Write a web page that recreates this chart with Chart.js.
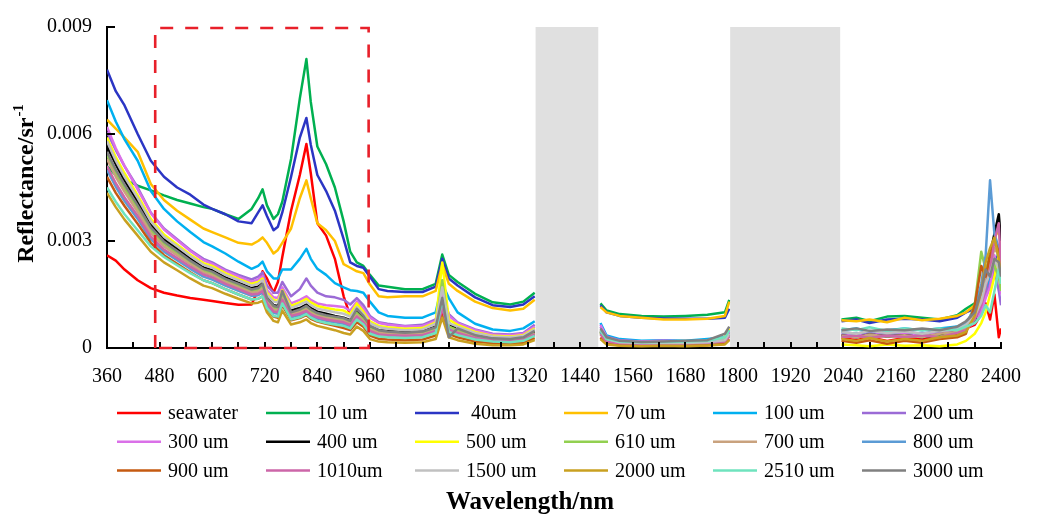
<!DOCTYPE html>
<html>
<head>
<meta charset="utf-8">
<script src="https://cdn.jsdelivr.net/npm/chart.js@4/dist/chart.umd.min.js"></script>
<style>
html,body{margin:0;padding:0;background:#fff;}
#wrap{width:1038px;height:522px;}
</style>
</head>
<body>
<div id="wrap"><canvas id="c" width="1038" height="522"></canvas></div>
<script>
// ---------------- DATA (reflectance values in units of 1e-3 sr^-1) ----------------
const wavelengths = [360,380,400,430,460,490,520,550,580,600,
 630,660,690,705,715,725,740,750,760,780,
 800,815,825,840,860,880,900,915,930,945,
 960,980,1000,1040,1080,1110,1125,1140,1160,1200,
 1240,1280,1310,1336,1400,
 1486,1500,1530,1580,1630,1680,1730,1770,1780,
 1900,
 2036,2070,2100,2140,2180,2220,2260,2300,2320,2340,
 2355,2365,2375,2385,2395,2400];

const seawater = [2.60,2.45,2.20,1.90,1.68,1.55,1.47,1.40,1.35,1.32,
 1.26,1.21,1.22,1.65,2.15,1.95,1.55,1.85,2.55,3.85,
 4.85,5.72,4.90,3.50,3.15,2.50,1.45,0.90,0.80,0.85,
 0.60,0.45,0.40,0.36,0.36,0.45,0.95,0.50,0.38,0.26,
 0.22,0.20,0.25,0.42,null,
 0.50,0.28,0.15,0.12,0.15,0.18,0.15,0.25,0.42,
 null,
 0.28,0.22,0.30,0.20,0.28,0.24,0.32,0.40,0.55,0.65,
 0.95,1.25,0.80,1.50,0.30,0.55];
const um10 = [5.10,4.85,4.72,4.55,4.42,4.28,4.15,4.05,3.95,3.90,
 3.75,3.62,3.90,4.20,4.45,4.00,3.62,3.75,4.10,5.30,
 7.00,8.10,6.90,5.65,5.15,4.50,3.55,2.70,2.40,2.30,
 2.05,1.75,1.72,1.65,1.65,1.80,2.62,2.05,1.85,1.52,
 1.28,1.22,1.30,1.55,null,
 1.25,1.05,0.95,0.90,0.88,0.90,0.93,1.00,1.35,
 null,
 0.80,0.85,0.75,0.88,0.90,0.85,0.80,0.92,1.10,1.25,
 1.50,1.80,2.20,2.00,2.80,2.30];
const um40 = [7.80,7.20,6.80,6.00,5.25,4.80,4.50,4.30,4.02,3.90,
 3.75,3.55,3.50,3.80,4.00,3.70,3.30,3.40,3.80,4.80,
 5.90,6.45,5.70,4.85,4.40,3.85,3.05,2.40,2.30,2.25,
 2.00,1.65,1.60,1.57,1.57,1.72,2.50,1.95,1.75,1.42,
 1.20,1.15,1.22,1.45,null,
 1.20,1.00,0.90,0.85,0.83,0.82,0.82,0.85,1.10,
 null,
 0.75,0.80,0.70,0.80,0.82,0.80,0.75,0.85,1.00,1.10,
 1.40,1.60,2.00,2.40,2.60,2.20];
const um70 = [6.40,6.15,5.90,5.50,4.60,4.15,3.85,3.60,3.35,3.25,
 3.10,2.95,2.90,3.00,3.10,2.95,2.65,2.75,2.95,3.35,
 4.20,4.70,4.20,3.50,3.30,3.00,2.35,2.25,2.15,2.10,
 1.78,1.45,1.42,1.45,1.45,1.60,2.35,1.80,1.60,1.30,
 1.12,1.05,1.10,1.35,null,
 1.15,1.00,0.90,0.85,0.80,0.80,0.82,0.90,1.30,
 null,
 0.78,0.75,0.80,0.72,0.85,0.78,0.82,0.90,1.00,1.20,
 1.70,2.00,2.60,3.10,3.30,2.80];
const um100 = [6.95,6.35,5.85,5.25,4.40,3.90,3.55,3.25,2.97,2.85,
 2.65,2.42,2.22,2.30,2.42,2.15,1.95,1.95,2.20,2.20,
 2.50,2.78,2.50,2.22,2.05,1.82,1.70,1.62,1.60,1.55,
 1.30,1.00,0.90,0.85,0.85,1.00,1.80,1.40,1.00,0.68,
 0.52,0.48,0.55,0.75,null,
 0.70,0.35,0.25,0.20,0.22,0.20,0.25,0.30,0.50,
 null,
 0.50,0.55,0.45,0.50,0.55,0.50,0.55,0.60,0.70,0.90,
 1.20,1.60,2.00,2.30,2.50,2.00];
const um200 = [6.05,5.55,5.10,4.50,3.80,3.35,3.05,2.75,2.50,2.40,
 2.20,2.05,1.92,2.00,2.12,1.75,1.55,1.55,1.85,1.45,
 1.65,1.95,1.75,1.55,1.45,1.42,1.35,1.22,1.40,1.20,
 0.90,0.72,0.68,0.62,0.65,0.80,1.50,0.95,0.72,0.52,
 0.40,0.38,0.42,0.65,null,
 0.60,0.32,0.22,0.18,0.20,0.18,0.20,0.25,0.45,
 null,
 0.40,0.35,0.45,0.38,0.42,0.35,0.45,0.50,0.60,0.80,
 1.10,1.50,1.80,2.20,1.60,1.20];
const um300 = [6.20,5.60,5.10,4.45,3.78,3.32,3.02,2.72,2.46,2.36,
 2.16,2.00,1.85,1.92,2.02,1.62,1.42,1.40,1.70,1.25,
 1.35,1.45,1.35,1.25,1.20,1.18,1.15,1.05,1.30,1.10,
 0.85,0.70,0.65,0.60,0.62,0.75,1.60,0.90,0.70,0.50,
 0.38,0.36,0.40,0.60,null,
 0.65,0.30,0.20,0.18,0.20,0.18,0.20,0.25,0.45,
 null,
 0.35,0.40,0.32,0.45,0.38,0.42,0.35,0.48,0.55,0.70,
 1.00,1.40,1.70,2.60,2.10,1.50];
const um400 = [5.65,5.15,4.70,4.10,3.45,3.05,2.78,2.50,2.26,2.18,
 1.98,1.83,1.68,1.72,1.82,1.42,1.20,1.18,1.50,1.05,
 1.12,1.22,1.12,1.02,0.96,0.90,0.85,0.78,1.00,0.85,
 0.60,0.50,0.48,0.45,0.48,0.60,1.30,0.70,0.50,0.35,
 0.27,0.25,0.30,0.45,null,
 0.45,0.20,0.15,0.12,0.13,0.12,0.14,0.20,0.38,
 null,
 0.35,0.30,0.38,0.32,0.36,0.30,0.38,0.45,0.55,0.75,
 1.50,2.00,2.60,3.20,3.75,3.00];
const um500 = [5.90,5.35,4.90,4.28,3.62,3.18,2.90,2.62,2.38,2.30,
 2.10,1.94,1.80,1.85,1.95,1.55,1.35,1.32,1.62,1.18,
 1.28,1.38,1.28,1.18,1.12,1.08,1.05,0.95,1.25,1.02,
 0.75,0.62,0.58,0.54,0.56,0.72,2.40,0.80,0.65,0.45,
 0.34,0.32,0.36,0.55,null,
 0.45,0.22,0.12,0.08,0.06,0.08,0.10,0.30,0.55,
 null,
 0.10,0.08,0.05,0.10,0.06,0.08,0.05,0.10,0.20,0.40,
 0.70,1.00,1.50,2.00,2.60,2.00];
const um610 = [5.40,4.90,4.48,3.92,3.30,2.92,2.66,2.40,2.17,2.09,
 1.90,1.75,1.60,1.63,1.72,1.35,1.12,1.10,1.45,0.98,
 1.05,1.12,1.02,0.94,0.88,0.84,0.80,0.72,0.98,0.80,
 0.55,0.45,0.42,0.40,0.42,0.55,1.90,0.60,0.50,0.32,
 0.25,0.23,0.27,0.42,null,
 0.40,0.18,0.12,0.10,0.10,0.11,0.12,0.18,0.35,
 null,
 0.30,0.35,0.28,0.35,0.30,0.35,0.32,0.45,0.60,1.20,
 2.70,2.20,2.50,2.30,2.00,1.60];
const um700 = [5.30,4.80,4.38,3.82,3.22,2.85,2.60,2.35,2.12,2.04,
 1.85,1.70,1.55,1.58,1.66,1.30,1.08,1.05,1.40,0.95,
 1.00,1.08,0.98,0.90,0.84,0.80,0.76,0.68,0.92,0.76,
 0.52,0.42,0.40,0.37,0.39,0.50,1.20,0.55,0.45,0.30,
 0.23,0.21,0.25,0.40,null,
 0.42,0.20,0.14,0.12,0.13,0.12,0.14,0.20,0.35,
 null,
 0.35,0.30,0.38,0.32,0.36,0.30,0.40,0.45,0.55,0.90,
 1.40,2.00,2.30,2.80,2.60,2.00];
const um800 = [5.00,4.52,4.12,3.62,3.05,2.70,2.46,2.22,2.00,1.92,
 1.75,1.60,1.46,1.48,1.55,1.20,0.98,0.96,1.30,0.86,
 0.92,1.00,0.90,0.82,0.76,0.72,0.68,0.60,0.85,0.70,
 0.45,0.36,0.34,0.32,0.34,0.45,1.25,0.52,0.40,0.26,
 0.20,0.18,0.22,0.36,null,
 0.45,0.22,0.15,0.13,0.14,0.15,0.16,0.22,0.40,
 null,
 0.45,0.40,0.48,0.42,0.46,0.40,0.50,0.55,0.70,1.10,
 1.80,2.60,4.70,3.20,2.80,2.00];
const um900 = [4.80,4.35,3.98,3.48,2.95,2.60,2.36,2.12,1.90,1.82,
 1.65,1.50,1.36,1.38,1.45,1.10,0.88,0.85,1.20,0.78,
 0.84,0.92,0.82,0.74,0.68,0.62,0.56,0.50,0.72,0.60,
 0.35,0.26,0.24,0.22,0.24,0.35,0.90,0.40,0.30,0.18,
 0.13,0.12,0.15,0.28,null,
 0.30,0.12,0.08,0.06,0.07,0.06,0.08,0.12,0.25,
 null,
 0.20,0.15,0.22,0.12,0.20,0.15,0.25,0.30,0.40,1.20,
 2.30,2.00,2.60,3.00,2.70,2.20];
const um1010 = [5.10,4.62,4.22,3.70,3.12,2.76,2.52,2.28,2.06,1.98,
 1.80,1.65,1.50,1.52,1.60,1.25,1.02,1.00,1.35,0.90,
 0.96,1.04,0.94,0.86,0.80,0.76,0.72,0.64,0.88,0.72,
 0.48,0.38,0.36,0.34,0.36,0.48,1.10,0.50,0.42,0.28,
 0.21,0.19,0.23,0.38,null,
 0.38,0.18,0.13,0.12,0.12,0.13,0.14,0.18,0.32,
 null,
 0.30,0.35,0.28,0.35,0.30,0.36,0.30,0.42,0.50,0.80,
 1.20,1.70,2.20,3.00,3.50,2.20];
const um1500 = [5.80,5.25,4.80,4.20,3.55,3.12,2.85,2.58,2.33,2.25,
 2.05,1.90,1.75,1.80,1.90,1.50,1.30,1.28,1.58,1.12,
 1.22,1.30,1.20,1.10,1.05,1.00,0.96,0.88,1.15,0.95,
 0.70,0.58,0.54,0.50,0.52,0.68,1.70,0.70,0.60,0.42,
 0.32,0.30,0.34,0.52,null,
 0.50,0.25,0.16,0.14,0.15,0.14,0.16,0.22,0.40,
 null,
 0.45,0.40,0.48,0.42,0.46,0.40,0.48,0.52,0.65,0.90,
 1.30,1.80,2.10,2.50,2.20,1.80];
const um2000 = [4.35,3.95,3.60,3.15,2.70,2.40,2.18,1.95,1.75,1.68,
 1.52,1.38,1.25,1.27,1.32,1.00,0.76,0.72,1.05,0.66,
 0.72,0.80,0.70,0.62,0.56,0.50,0.42,0.38,0.60,0.48,
 0.25,0.18,0.16,0.15,0.16,0.25,0.85,0.30,0.22,0.12,
 0.08,0.08,0.10,0.22,null,
 0.25,0.10,0.06,0.05,0.06,0.05,0.07,0.10,0.22,
 null,
 0.25,0.20,0.28,0.18,0.25,0.20,0.30,0.35,0.45,0.90,
 1.60,2.40,2.80,3.10,2.50,2.00];
const um2510 = [4.50,4.10,3.75,3.30,2.85,2.55,2.32,2.10,1.90,1.82,
 1.65,1.50,1.36,1.38,1.45,1.12,0.90,0.88,1.25,0.80,
 0.86,0.95,0.85,0.76,0.70,0.66,0.62,0.55,0.80,0.66,
 0.40,0.32,0.30,0.28,0.30,0.42,1.35,0.45,0.36,0.24,
 0.18,0.16,0.20,0.34,null,
 0.50,0.25,0.18,0.16,0.17,0.18,0.20,0.30,0.50,
 null,
 0.55,0.50,0.58,0.48,0.55,0.50,0.55,0.50,0.60,0.70,
 0.90,1.20,1.00,1.60,2.20,1.80];
const um3000 = [5.50,5.00,4.58,4.00,3.38,2.98,2.72,2.45,2.22,2.14,
 1.94,1.80,1.64,1.68,1.80,1.40,1.18,1.15,1.60,1.00,
 1.08,1.18,1.08,0.98,0.92,0.88,0.84,0.76,1.10,0.90,
 0.62,0.50,0.46,0.43,0.46,0.58,1.40,0.30,0.55,0.36,
 0.27,0.25,0.30,0.48,null,
 0.55,0.30,0.20,0.17,0.18,0.20,0.22,0.40,0.60,
 null,
 0.50,0.55,0.48,0.52,0.50,0.55,0.50,0.60,0.75,1.00,
 1.60,2.20,2.00,2.50,2.40,2.00];

const seriesNames = ['seawater','10 um',' 40um','70 um','100 um','200 um',
 '300 um','400 um','500 um','610 um','700 um','800 um',
 '900 um','1010um','1500 um','2000 um','2510 um','3000 um'];
const seriesValues = [seawater,um10,um40,um70,um100,um200,
 um300,um400,um500,um610,um700,um800,
 um900,um1010,um1500,um2000,um2510,um3000];
const seriesColors = ['#FF0000','#00B050','#2B35C4','#FFC000','#00B0F0','#9B6BD6',
 '#DA70E8','#000000','#FFFF00','#92D050','#C9A27E','#5B9BD5',
 '#C55A11','#CC66A8','#C0C0C0','#C9A020','#6FE3BE','#808080'];

const xTickLabels = [360,480,600,720,840,960,1080,1200,1320,1440,1560,1680,1800,1920,2040,2160,2280,2400];
const yTickLabels = ['0','0.003','0.006','0.009'];
const grayBands = [[1338,1481],[1782,2033]];   // nm ranges shaded grey
const highlightRange = [470, 957];            // nm range of red dashed box
const X_MIN = 360, X_MAX = 2400, Y_MAX = 0.009;

// ---------------- CHART ----------------
const FONT = "'Liberation Serif','Times New Roman',serif";
const datasets = seriesValues.map((vals, i) => ({
  label: seriesNames[i],
  data: wavelengths.map((w, j) => ({x: w, y: vals[j] == null ? null : vals[j] / 1000})),
  borderColor: seriesColors[i],
  backgroundColor: seriesColors[i],
  borderWidth: 2.5,
  pointRadius: 0,
  tension: 0,
  spanGaps: false,
  order: seriesValues.length - i
}));

const decorPlugin = {
  id: 'decor',
  afterDatasetsDraw(chart) {
    const {ctx, scales: {x, y}} = chart;
    ctx.save();
    ctx.fillStyle = '#E0E0E0';
    grayBands.forEach(([a, b]) => {
      const x0 = x.getPixelForValue(a), x1 = x.getPixelForValue(b);
      const y0 = y.getPixelForValue(Y_MAX), y1 = y.getPixelForValue(0);
      ctx.fillRect(x0, y0, x1 - x0, y1 - y0 - 1);
    });
    ctx.restore();
  },
  afterDraw(chart) {
    const {ctx, chartArea, scales: {x, y}} = chart;
    ctx.save();
    // inward tick marks
    ctx.strokeStyle = '#000';
    ctx.lineWidth = 2;
    x.ticks.forEach(t => {
      if (t.value === X_MIN) return;
      const px = Math.round(x.getPixelForValue(t.value));
      ctx.beginPath(); ctx.moveTo(px, chartArea.bottom); ctx.lineTo(px, chartArea.bottom - 6); ctx.stroke();
    });
    y.ticks.forEach(t => {
      if (t.value === 0) return;
      const py = Math.round(y.getPixelForValue(t.value));
      ctx.beginPath(); ctx.moveTo(chartArea.left, py); ctx.lineTo(chartArea.left + 8, py); ctx.stroke();
    });
    // red dashed box
    const bx0 = x.getPixelForValue(highlightRange[0]);
    const bx1 = x.getPixelForValue(highlightRange[1]);
    const by0 = y.getPixelForValue(Y_MAX) + 1;
    const by1 = y.getPixelForValue(0);
    ctx.strokeStyle = '#E8202A';
    ctx.lineWidth = 2.6;
    ctx.setLineDash([13, 12]);
    ctx.beginPath();
    ctx.moveTo(bx0, by1); ctx.lineTo(bx0, by0); ctx.lineTo(bx1, by0); ctx.lineTo(bx1, by1); ctx.lineTo(bx0, by1);
    ctx.stroke();
    ctx.setLineDash([]);

    // legend (grid 6 x 3)
    ctx.font = '20px ' + FONT;
    ctx.textBaseline = 'middle';
    ctx.textAlign = 'left';
    chart.data.datasets.forEach((ds, i) => {
      const col = i % 6, row = Math.floor(i / 6);
      const lx = 117 + col * 149;
      const ly = 413 + row * 28.7;
      ctx.strokeStyle = ds.borderColor;
      ctx.lineWidth = 2.5;
      ctx.beginPath(); ctx.moveTo(lx, ly); ctx.lineTo(lx + 44, ly); ctx.stroke();
      ctx.fillStyle = '#000';
      ctx.fillText(ds.label, lx + 51, ly + 1);
    });

    // x title
    ctx.font = 'bold 25px ' + FONT;
    ctx.textAlign = 'center';
    ctx.textBaseline = 'alphabetic';
    ctx.fillText('Wavelength/nm', 530, 509);

    // y title with superscript
    ctx.translate(25, 184);
    ctx.rotate(-Math.PI / 2);
    ctx.font = 'bold 24px ' + FONT;
    const main = 'Reflectance/sr';
    const w1 = ctx.measureText(main).width;
    ctx.font = 'bold 15px ' + FONT;
    const sup = '-1';
    const w2 = ctx.measureText(sup).width;
    const start = -(w1 + w2) / 2;
    ctx.textAlign = 'left';
    ctx.font = 'bold 24px ' + FONT;
    ctx.fillText(main, start, 8);
    ctx.font = 'bold 15px ' + FONT;
    ctx.fillText(sup, start + w1 + 1, -2);
    ctx.restore();
  }
};

new Chart(document.getElementById('c'), {
  type: 'line',
  data: {datasets},
  options: {
    responsive: false,
    animation: false,
    devicePixelRatio: 1,
    layout: {padding: {left: 0, right: 36, top: 20, bottom: 0}},
    plugins: {legend: {display: false}, tooltip: {enabled: false}, title: {display: false}},
    elements: {line: {borderJoinStyle: 'round'}},
    scales: {
      x: {
        type: 'linear', min: X_MIN, max: X_MAX,
        grid: {display: false, drawTicks: false},
        border: {display: true, color: '#000', width: 2},
        ticks: {
          stepSize: 60, autoSkip: false, maxRotation: 0, minRotation: 0,
          padding: 17, color: '#000', font: {family: FONT, size: 20},
          callback: v => xTickLabels.includes(v) ? String(v) : ''
        },
        afterFit: s => { s.height = 174; }
      },
      y: {
        type: 'linear', min: 0, max: Y_MAX,
        grid: {display: false, drawTicks: false},
        border: {display: true, color: '#000', width: 2},
        ticks: {
          stepSize: 0.003, padding: 15, color: '#000', font: {family: FONT, size: 20},
          callback: (v, i) => yTickLabels[i]
        },
        afterFit: s => { s.width = 107; }
      }
    }
  },
  plugins: [decorPlugin]
});
</script>
</body>
</html>
